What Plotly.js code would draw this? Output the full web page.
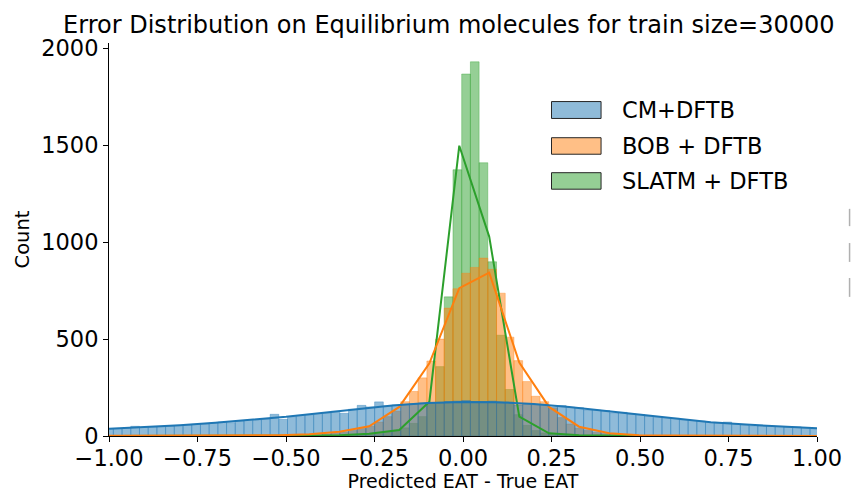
<!DOCTYPE html>
<html><head><meta charset="utf-8">
<script src="https://cdn.plot.ly/plotly-3.0.1.min.js"></script>
<style>html,body{margin:0;padding:0;background:#fff}#chart{width:852px;height:492px}</style>
</head><body><div id="chart"></div>
<script>
// Histogram bins (shared across series): first bin center and bin width
const binStart = -1.0;
const binWidth = 0.0246;

const seriesNames = ['CM+DFTB', 'BOB + DFTB', 'SLATM + DFTB'];

const cmCounts = [35,38,40,50,44,46,48,52,54,57, 60,63,66,72,69,78,80,84,88,112,
  86,100,106,110,116,120,127,117,138,158, 150,176,155,160,163,166,170,170,172,178,
  180,183,176,178,180,170,175,160,168,162, 158,150,157,148,146,135,133,131,120,122,
  113,111,103,96,95,91,84,80,77,70, 66,72,60,58,53,52,50,49,46,47, 43,38];

const bobCounts = [1,0,1,1,1,0,1,1,2,1,1,2, 1,2,2,1,2,3,2,2,3,3,
  3,4,6,9,14,20,28,38,50,72, 100,128,177,230,300,387,500,660,760,840,
  870,918,860,737,510,389,281,205,177,143, 95,62,40,28,18,12,8,5,4,3,
  3,2,2,1,2,1,1,1,0,1, 1,0,1,0,1,1,0,0,1,0];

const slatmCounts = [0,0,0,0,0,0,0,0,0,1,0,0, 0,1,0,0,1,1,0,1,1,2,
  1,2,2,3,3,4,5,7,9,12, 18,28,42,65,100,170,358,718,1374,1868,
  1931,1410,899,520,240,110,55,28,16,12, 8,6,4,3,2,2,1,1,1,0,
  1,0,0,1,0,0,0,0,0,0, 0,0,0,0,0,0,0,0,0,0];

// KDE curves (counts)
const cmKdeX = [-1.0,-0.9,-0.8,-0.7,-0.6,-0.5,-0.4,-0.3,-0.2,-0.1,0.0,0.1,0.2,0.3,0.4,0.5,0.6,0.7,0.8,0.9,1.0];
const cmKde  = [37,45,55,68,82,99,119,139,157,170,175,174,165,150,130,110,90,71,59,49,40];

const kdeX = [-1.027,-0.942,-0.858,-0.773,-0.688,-0.603,-0.519,-0.434,-0.349,-0.265,-0.180,-0.095,
  -0.0105,0.074,0.159,0.243,0.328,0.413,0.497,0.582,0.667,0.751,0.836,0.921,1.006];
const bobKde = [1,1,1,1,2,2,4,9,22,50,150,375,763,843,379,150,48,14,4,2,1,1,1,0,0];
const slatmKde = [0,0,0,0,0,0,0,1,4,12,31,177,1498,1029,100,14,4,1,0,0,0,0,0,0,0];

const xTicks = [-1.0,-0.75,-0.5,-0.25,0.0,0.25,0.5,0.75,1.0];
const yTicks = [0,500,1000,1500,2000];

const C = {cm:[31,119,180], bob:[255,127,14], slatm:[44,160,44]};
const rgba = (c,a)=>`rgba(${c[0]},${c[1]},${c[2]},${a})`;

function barTrace(name, counts, col){
  return {type:'bar', name:name, x0:binStart, dx:binWidth, y:counts, width:binWidth,
    marker:{color:rgba(col,0.5), line:{color:rgba(col,0.45), width:0.8}},
    showlegend:false, hoverinfo:'skip'};
}
function lineTrace(name, xs, ys, col){
  return {type:'scatter', mode:'lines', name:name, x:xs, y:ys,
    line:{color:rgba(col,1), width:2}, showlegend:false, hoverinfo:'skip'};
}

const data = [
  barTrace(seriesNames[2], slatmCounts, C.slatm),
  barTrace(seriesNames[1], bobCounts, C.bob),
  barTrace(seriesNames[0], cmCounts, C.cm),
  lineTrace(seriesNames[2], kdeX, slatmKde, C.slatm),
  lineTrace(seriesNames[1], kdeX, bobKde, C.bob),
  lineTrace(seriesNames[0], cmKdeX, cmKde, C.cm)
];

// custom legend (wide patches like matplotlib)
const legCols = [C.cm, C.bob, C.slatm];
const legY = [[0.808,0.851],[0.717,0.759],[0.628,0.670]];
const shapes = [];
const annotations = [];
for (let i=0;i<3;i++){
  shapes.push({type:'rect', xref:'paper', yref:'paper', x0:0.625, x1:0.695, y0:legY[i][0], y1:legY[i][1],
    fillcolor:rgba(legCols[i],0.5), line:{color:'#262626', width:1}});
  annotations.push({xref:'paper', yref:'paper', x:0.722, y:(legY[i][0]+legY[i][1])/2, xanchor:'left', yanchor:'middle',
    text:seriesNames[i], showarrow:false, font:{family:'DejaVu Sans', size:22.5, color:'#000'}});
}
// clipped marks at the right edge
[[0.534,0.578],[0.443,0.491],[0.354,0.402]].forEach(s=>{
  shapes.push({type:'line', xref:'paper', yref:'paper', x0:1.046, x1:1.046, y0:s[0], y1:s[1],
    line:{color:'#b0b0b0', width:1.5}});
});

const layout = {
  width:852, height:492,
  margin:{l:109, r:35, t:43, b:56},
  paper_bgcolor:'#fff', plot_bgcolor:'#fff',
  barmode:'overlay', bargap:0,
  font:{family:'DejaVu Sans', color:'#000'},
  title:{text:'Error Distribution on Equilibrium molecules for train size=30000',
    font:{family:'DejaVu Sans', size:24, color:'#000'}, xref:'paper', x:0.48, xanchor:'center',
    yref:'container', y:0.95, yanchor:'middle'},
  xaxis:{range:[-1,1], tickvals:xTicks, tickformat:'.2f', showgrid:false, zeroline:false,
    showline:true, linecolor:'#000', linewidth:1, ticks:'outside', ticklen:5, tickcolor:'#000',
    ticklabelstandoff:-3,
    tickfont:{size:22.5}, title:{text:'Predicted EAT - True EAT', font:{size:19}, standoff:5}},
  yaxis:{range:[0,2028], tickvals:yTicks, showgrid:false, zeroline:false,
    showline:true, linecolor:'#000', linewidth:1, ticks:'outside', ticklen:5, tickcolor:'#000',
    tickfont:{size:22.5}, title:{text:'Count', font:{size:19.5}, standoff:6}},
  shapes:shapes, annotations:annotations
};

Plotly.newPlot('chart', data, layout, {staticPlot:true, displayModeBar:false});
</script>
</body></html>
